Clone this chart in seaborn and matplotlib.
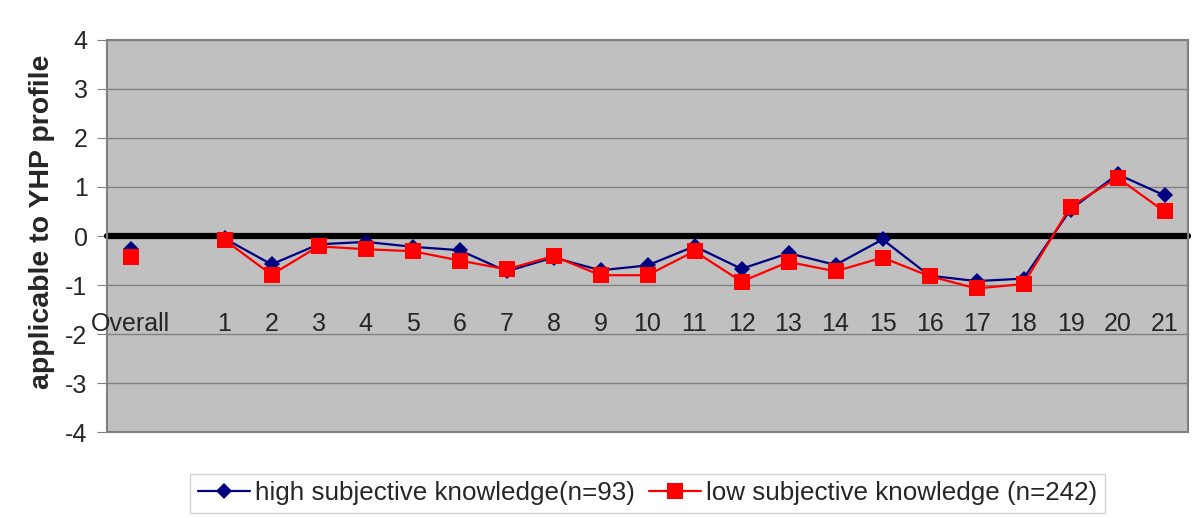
import numpy as np
import pandas as pd
import matplotlib.pyplot as plt
import seaborn as sns
from matplotlib.lines import Line2D

# Categories (an empty slot separates "Overall" from the numbered items)
categories = ["Overall", ""] + [str(i) for i in range(1, 22)]

# Values (NaN = empty slot)
high_vals = [-0.27, np.nan,
             -0.05, -0.58, -0.17, -0.12, -0.22, -0.29, -0.72, -0.44, -0.70, -0.60,
             -0.21, -0.67, -0.35, -0.59, -0.07, -0.81, -0.92, -0.87, 0.54, 1.26, 0.83]
low_vals = [-0.42, np.nan,
            -0.08, -0.79, -0.21, -0.27, -0.31, -0.50, -0.68, -0.41, -0.80, -0.80,
            -0.31, -0.93, -0.53, -0.72, -0.44, -0.82, -1.07, -0.98, 0.60, 1.19, 0.50]

high_label = "high subjective knowledge(n=93)"
low_label = "low subjective knowledge (n=242)"

pos = np.arange(len(categories))
seg = [0] + [1] * (len(categories) - 1)
df = pd.concat([
    pd.DataFrame({"pos": pos, "value": high_vals, "group": high_label, "seg": seg}),
    pd.DataFrame({"pos": pos, "value": low_vals, "group": low_label, "seg": seg}),
]).dropna()

sns.set_style("white")
plt.rcParams["font.family"] = ["Liberation Sans", "DejaVu Sans"]
plt.rcParams["axes.unicode_minus"] = False

fig = plt.figure(figsize=(12, 5.18), dpi=100)
ax = fig.add_axes([0.0892, 0.166, 0.9008, 0.7568])
ax.set_facecolor("#C0C0C0")

styles = {
    high_label: dict(color="#000080", marker="D", markersize=8, lw=1.6, z=3),
    low_label: dict(color="#FF0000", marker="s", markersize=11, lw=1.6, z=4),
}
for g, st in styles.items():
    sub = df[df["group"] == g]
    sns.lineplot(data=sub, x="pos", y="value", units="seg", estimator=None,
                 color=st["color"], marker=st["marker"], markersize=st["markersize"],
                 markeredgewidth=0, linewidth=st["lw"], ax=ax, zorder=st["z"],
                 legend=False)

# thick zero line
ax.axhline(0, color="black", lw=4.5, zorder=2, solid_capstyle="round", clip_on=False)

ax.set_xlim(-0.5, len(categories) - 0.5)
ax.set_ylim(-4, 4)
ax.set_yticks(range(-4, 5))
ax.yaxis.grid(True, color="#808080", lw=1)
ax.set_axisbelow(True)
ax.set_xticks([])
ax.set_xlabel("")
ax.tick_params(axis="y", left=True, length=7, color="#808080", labelsize=18, pad=7)
ax.set_ylabel("applicable to YHP profile", fontsize=20.5, fontweight="bold")
ax.yaxis.set_label_coords(-0.048, 0.536)
for s in ax.spines.values():
    s.set_color("#808080")
    s.set_linewidth(1.5)

# category labels sit inside the plot near -2
for p, lab in zip(pos, categories):
    ax.text(p, -1.8, lab, ha="center", va="center", fontsize=18, zorder=5)

handles = [Line2D([], [], color=st["color"], marker=st["marker"], markersize=st["markersize"],
                  markeredgewidth=0, lw=st["lw"]) for st in styles.values()]
leg = fig.legend(handles, list(styles.keys()), loc="center",
                 bbox_to_anchor=(0.5396, 0.0473), ncol=2, frameon=True, fancybox=False,
                 fontsize=18.7, handlelength=2.0, handletextpad=0.2,
                 columnspacing=0.55, borderpad=0.3)
leg.get_frame().set_edgecolor("#C8C8C8")
leg.get_frame().set_linewidth(1)

fig.savefig("out.png", dpi=100)
